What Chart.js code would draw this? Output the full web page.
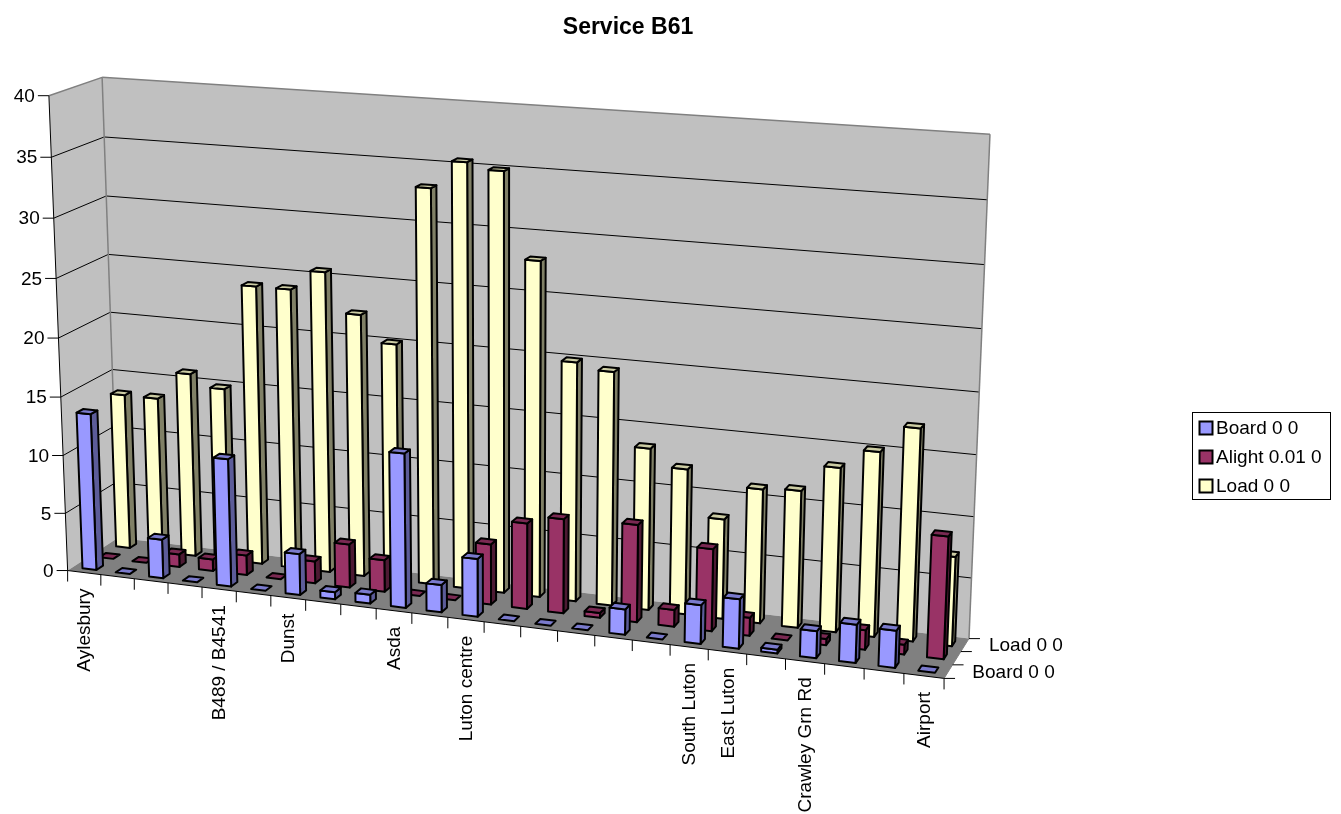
<!DOCTYPE html>
<html>
<head>
<meta charset="utf-8">
<title>Service B61</title>
<script src="https://cdn.jsdelivr.net/npm/chart.js@4"></script>
<style>
    html, body { margin: 0; background: #fff; }
    #wrap { width: 1341px; height: 814px; }
</style>
</head>
<body>
<div id="wrap"><canvas id="stops"></canvas></div>
<script>
// --- Data ---
const categories = ['Aylesbury', '', '', '', 'B489 / B4541', '', 'Dunst', '', '', 'Asda', '', 'Luton centre',
    '', '', '', '', '', 'South Luton', 'East Luton', '', 'Crawley Grn Rd', '', '', 'Airport'];
const boardValues = [13.5, 0, 3.35, 0, 10.9, 0, 3.5, 0.6, 0.75, 12.95, 2.3, 4.85, 0, 0, 0, 2.1, 0, 3.2, 4.05, 0.3, 2.2, 3.1, 3, 0];
const alightValues = [0, 0, 1.1, 1, 1.7, 0, 1.9, 3.7, 2.7, 0, 0, 5.1, 7.2, 7.9, 0.4, 8.1, 1.4, 6.8, 1.5, 0, 0.5, 1.6, 0.8, 9.9];
const loadValues = [13.5, 13.5, 15.9, 14.9, 23.9, 23.9, 25.6, 22.3, 20.1, 33.2, 35.5, 35, 28, 20, 19.5, 13.5, 12.1, 8.3, 11.1, 11.3, 13.5, 15.1, 17.3, 7.3];
const seriesNames = ['Board 0 0', 'Alight 0.01 0', 'Load 0 0'];
const depthLabels = ['Board 0 0', '', 'Load 0 0'];
const yTicks = { min: 0, max: 40, stepSize: 5 };

// --- Colours: front, side, top ---
const palette = [
    ['#9999ff', '#5c5c99', '#7a7acc'],
    ['#993366', '#4d1a33', '#7a2952'],
    ['#ffffcc', '#808066', '#cccca3']
];

// Box corners as (along, up, deep) -> where they land on the canvas
const boxCorners = [
    [0, 0, 0, 67.3, 570], [0, 1, 0, 49.3, 95.7], [0, 1, 1, 101.7, 77.3], [0, 0, 1, 118.5, 538.4],
    [1, 0, 1, 969, 638], [1, 1, 1, 990, 134.3], [1, 0, 0, 944, 679]
];
// Each row sits in the middle of its third of the floor
const barDepth = 0.13;
const rowFront = [1 / 6, 3 / 6, 5 / 6].map(c => c - barDepth / 2);
const fontFamily = '"Liberation Sans", Arial, sans-serif';

// Least squares fit of the 11 camera terms from the corners
function fitCamera(points) {
    const rows = [];
    points.forEach(([a, b, c, x, y]) => {
        rows.push([a, b, c, 1, 0, 0, 0, 0, -a * x, -b * x, -c * x, x]);
        rows.push([0, 0, 0, 0, a, b, c, 1, -a * y, -b * y, -c * y, y]);
    });
    const n = 11;
    const m = [];
    for (let i = 0; i < n; i++) {
        m.push([]);
        for (let j = 0; j <= n; j++) {
            m[i].push(rows.reduce((sum, r) => sum + r[i] * r[j], 0));
        }
    }
    for (let i = 0; i < n; i++) {
        let pivot = i;
        for (let k = i + 1; k < n; k++) {
            if (Math.abs(m[k][i]) > Math.abs(m[pivot][i])) pivot = k;
        }
        [m[i], m[pivot]] = [m[pivot], m[i]];
        for (let k = 0; k < n; k++) {
            if (k === i) continue;
            const f = m[k][i] / m[i][i];
            for (let j = i; j <= n; j++) m[k][j] -= f * m[i][j];
        }
    }
    return m.map((r, i) => r[n] / r[i]);
}

const cam = fitCamera(boxCorners);
function project(u, v, w) {
    const d = cam[8] * u + cam[9] * v + cam[10] * w + 1;
    return [
        (cam[0] * u + cam[1] * v + cam[2] * w + cam[3]) / d,
        (cam[4] * u + cam[5] * v + cam[6] * w + cam[7]) / d
    ];
}

function quad(ctx, pts, fill, stroke, lineWidth) {
    ctx.beginPath();
    pts.forEach((p, i) => (i ? ctx.lineTo(p[0], p[1]) : ctx.moveTo(p[0], p[1])));
    ctx.closePath();
    if (fill) { ctx.fillStyle = fill; ctx.fill(); }
    if (stroke) { ctx.strokeStyle = stroke; ctx.lineWidth = lineWidth || 1; ctx.stroke(); }
}

function line(ctx, a, b, color, lineWidth) {
    ctx.beginPath();
    ctx.moveTo(a[0], a[1]);
    ctx.lineTo(b[0], b[1]);
    ctx.strokeStyle = color;
    ctx.lineWidth = lineWidth || 1;
    ctx.stroke();
}

// --- Bars: the library lays them out, this controller draws them as boxes ---
class Bar3D extends Chart.BarController {
    draw() {
        const { ctx, scales: { x: xScale, y: yScale } } = this.chart;
        const colors = palette[this.index];
        const front = rowFront[this.index];
        const back = front + barDepth;
        ctx.save();
        ctx.lineJoin = 'round';
        this.getMeta().data.forEach(bar => {
            const u0 = (bar.x - bar.width / 2 - xScale.left) / xScale.width;
            const u1 = (bar.x + bar.width / 2 - xScale.left) / xScale.width;
            const v = (yScale.bottom - bar.y) / yScale.height;
            const a = project(u0, 0, front), b = project(u1, 0, front);
            const c = project(u1, v, front), d = project(u0, v, front);
            const e = project(u1, 0, back), f = project(u1, v, back), g = project(u0, v, back);
            if (v > 0) {
                quad(ctx, [b, e, f, c], colors[1], '#000', 2);
                quad(ctx, [a, b, c, d], colors[0], '#000', 2);
            }
            quad(ctx, [d, c, f, g], colors[2], '#000', 2);
        });
        ctx.restore();
    }
}
Bar3D.id = 'bar3d';
Bar3D.defaults = Chart.BarController.defaults;
Bar3D.overrides = Chart.BarController.overrides;
Chart.register(Bar3D);

// --- Walls, floor, gridlines and axis text ---
const box3d = {
    id: 'box3d',
    beforeDatasetsDraw(chart) {
        const { ctx, scales: { x, y } } = chart;
        const upOf = value => (y.bottom - y.getPixelForValue(value)) / y.height;
        ctx.save();

        // left wall, back wall, floor
        quad(ctx, [project(0, 0, 0), project(0, 1, 0), project(0, 1, 1), project(0, 0, 1)], '#c0c0c0');
        quad(ctx, [project(0, 0, 1), project(0, 1, 1), project(1, 1, 1), project(1, 0, 1)], '#c0c0c0');
        quad(ctx, [project(0, 0, 0), project(1, 0, 0), project(1, 0, 1), project(0, 0, 1)], '#808080');

        // gridlines
        y.ticks.forEach(t => {
            const v = upOf(t.value);
            if (t.value === yTicks.min || t.value === yTicks.max) return;
            line(ctx, project(0, v, 0), project(0, v, 1), '#000');
            line(ctx, project(0, v, 1), project(1, v, 1), '#000');
        });

        // wall edges
        line(ctx, project(0, 1, 0), project(0, 1, 1), '#808080', 1.5);
        line(ctx, project(0, 1, 1), project(1, 1, 1), '#808080', 1.5);
        line(ctx, project(0, 1, 1), project(0, 0, 1), '#808080', 1.5);
        line(ctx, project(1, 1, 1), project(1, 0, 1), '#808080', 1.5);
        line(ctx, project(0, 1, 0), project(0, 0, 0), '#000');
        line(ctx, project(0, 0, 0), project(1, 0, 0), '#000');
        line(ctx, project(1, 0, 0), project(1, 0, 1), '#808080');

        // value axis
        ctx.font = '19px ' + fontFamily;
        ctx.textAlign = 'right';
        ctx.textBaseline = 'middle';
        y.ticks.forEach(t => {
            const p = project(0, upOf(t.value), 0);
            line(ctx, [p[0] - 11, p[1]], p, '#000');
            ctx.fillStyle = '#000';
            ctx.fillText(t.label, p[0] - 14, p[1] + 1);
        });

        // category axis: ticks between the stops, names turned upright under them
        const stops = categories.length;
        for (let i = 0; i <= stops; i++) {
            const p = project(i / stops, 0, 0);
            line(ctx, p, [p[0], p[1] + 11], '#000');
        }
        categories.forEach((name, i) => {
            if (!name) return;
            const p = project((x.getPixelForValue(i) - x.left) / x.width, 0, 0);
            ctx.save();
            ctx.translate(p[0] + 1, p[1] + 16);
            ctx.rotate(-Math.PI / 2);
            ctx.fillStyle = '#000';
            ctx.fillText(name, 0, 0);
            ctx.restore();
        });

        // depth axis
        ctx.textAlign = 'left';
        for (let k = 0; k <= depthLabels.length; k++) {
            const p = project(1, 0, k / depthLabels.length);
            line(ctx, p, [p[0] + 11, p[1]], '#000');
        }
        depthLabels.forEach((name, k) => {
            if (!name) return;
            const p = project(1, 0, (k + 0.5) / depthLabels.length);
            ctx.fillStyle = '#000';
            ctx.fillText(name, p[0] + 24, p[1] + 1);
        });
        ctx.restore();
    },
    afterDatasetsDraw(chart) {
        // legend box with a swatch per series
        const { ctx } = chart;
        const boxLeft = 1192.5, boxTop = 412.5, boxWidth = 138, boxHeight = 87, rowHeight = 29;
        ctx.save();
        ctx.strokeStyle = '#000';
        ctx.lineWidth = 1;
        ctx.strokeRect(boxLeft, boxTop, boxWidth, boxHeight);
        ctx.font = '19px ' + fontFamily;
        ctx.textAlign = 'left';
        ctx.textBaseline = 'middle';
        chart.data.datasets.forEach((ds, i) => {
            const cy = boxTop + 15.5 + i * rowHeight;
            ctx.fillStyle = palette[i][0];
            ctx.fillRect(boxLeft + 7, cy - 6.5, 13, 13);
            ctx.lineWidth = 2;
            ctx.strokeRect(boxLeft + 7, cy - 6.5, 13, 13);
            ctx.fillStyle = '#000';
            ctx.fillText(ds.label, boxLeft + 23.5, cy + 1);
        });
        ctx.restore();
    }
};

new Chart(document.getElementById('stops'), {
    type: 'bar3d',
    data: {
        labels: categories,
        datasets: [
            { label: seriesNames[0], data: boardValues, backgroundColor: palette[0][0] },
            { label: seriesNames[1], data: alightValues, backgroundColor: palette[1][0] },
            { label: seriesNames[2], data: loadValues, backgroundColor: palette[2][0] }
        ]
    },
    options: {
        responsive: true,
        maintainAspectRatio: false,
        animation: false,
        grouped: false,
        barPercentage: 0.42,
        categoryPercentage: 1,
        layout: { padding: { right: 85 } },
        scales: {
            x: { type: 'category', display: false },
            y: { type: 'linear', display: false, min: yTicks.min, max: yTicks.max, ticks: { stepSize: yTicks.stepSize } }
        },
        plugins: {
            legend: { display: false },
            tooltip: { enabled: false },
            title: {
                display: true,
                text: 'Service B61',
                fullSize: false,
                color: '#000',
                font: { family: fontFamily, size: 23, weight: 'bold' },
                padding: { top: 14, bottom: 10 }
            }
        }
    },
    plugins: [box3d]
});
</script>
</body>
</html>
